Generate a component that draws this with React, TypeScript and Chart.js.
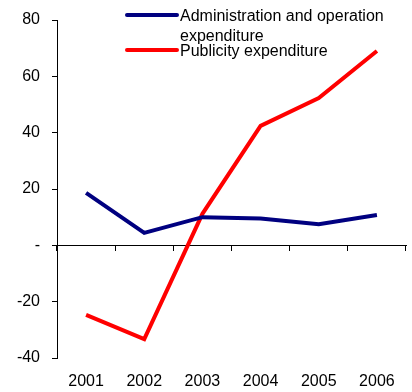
import React, { useEffect, useRef } from "react";
import { Chart, registerables } from "chart.js";

Chart.register(...registerables);

const years = ["2001", "2002", "2003", "2004", "2005", "2006"];
const adminValues = [18.6, 4.4, 10, 9.5, 7.5, 10.8];
const publicityValues = [-24.7, -33.3, 11.2, 42.4, 52.3, 69];
const seriesNames = ["Administration and operation expenditure", "Publicity expenditure"];
const seriesColors = ["#000080", "#FF0000"];
const yTicks = [-40, -20, 0, 20, 40, 60, 80];

const FONT = "'Liberation Sans', Arial, sans-serif";

const legendPlugin = {
  id: "customLegend",
  afterDraw(chart: any) {
    const ctx = chart.ctx;
    ctx.save();
    ctx.font = `16px ${FONT}`;
    ctx.fillStyle = "#000";
    ctx.textBaseline = "middle";
    const x0 = 127, x1 = 177, tx = 180, maxW = 225;
    let y = 16;
    chart.data.datasets.forEach((ds: any) => {
      ctx.strokeStyle = ds.borderColor;
      ctx.lineWidth = 4;
      ctx.lineCap = "round";
      ctx.beginPath();
      ctx.moveTo(x0, y - 1);
      ctx.lineTo(x1, y - 1);
      ctx.stroke();
      const words = String(ds.label).split(" ");
      const lines: string[] = [];
      let cur = "";
      words.forEach((w) => {
        const t = cur ? cur + " " + w : w;
        if (ctx.measureText(t).width > maxW && cur) {
          lines.push(cur);
          cur = w;
        } else cur = t;
      });
      if (cur) lines.push(cur);
      lines.forEach((l, i) => ctx.fillText(l, tx, y + 1 + i * 20));
      y += lines.length * 17.5;
    });
    ctx.restore();
  },
};

export default function App() {
  const ref = useRef<HTMLCanvasElement>(null);
  useEffect(() => {
    document.body.style.margin = "0";
    const chart = new Chart(ref.current!, {
      type: "line",
      data: {
        labels: years,
        datasets: [
          {
            label: seriesNames[0],
            data: adminValues,
            borderColor: seriesColors[0],
            backgroundColor: seriesColors[0],
            borderWidth: 4,
            pointRadius: 0,
            tension: 0,
            xAxisID: "x",
          },
          {
            label: seriesNames[1],
            data: publicityValues,
            borderColor: seriesColors[1],
            backgroundColor: seriesColors[1],
            borderWidth: 4,
            pointRadius: 0,
            tension: 0,
            xAxisID: "x",
          },
        ],
      },
      options: {
        animation: false,
        responsive: false,
        layout: { padding: { top: 20, right: 6, left: 0, bottom: 0 } },
        plugins: { legend: { display: false }, tooltip: { enabled: false } },
        scales: {
          x: {
            type: "category",
            position: "bottom",
            offset: true,
            grid: { display: false, drawTicks: false },
            border: { display: false },
            ticks: { color: "#000", font: { family: FONT, size: 16 }, padding: 14, maxRotation: 0 },
            afterFit: (s: any) => { s.height = 34; },
          },
          x2: {
            type: "category",
            axis: "x",
            labels: years,
            position: { y: 0 } as any,
            offset: true,
            grid: { offset: true, drawOnChartArea: false, drawTicks: true, tickLength: 5, color: "#000", lineWidth: 1 },
            border: { display: true, color: "#000", width: 1 },
            ticks: { display: false },
          },
          y: {
            min: -40,
            max: 80,
            afterBuildTicks: (s: any) => { s.ticks = yTicks.map((v) => ({ value: v })); },
            grid: { drawOnChartArea: false, drawTicks: true, tickLength: 5, color: "#000" },
            border: { display: true, color: "#000", width: 1 },
            ticks: {
              color: "#000",
              font: { family: FONT, size: 16, lineHeight: 1 },
              padding: 12,
              callback: (v: any) => (Number(v) === 0 ? "-" : String(v)),
            },
            afterFit: (s: any) => { s.width = 57; },
          },
        },
      },
      plugins: [legendPlugin],
    });
    return () => chart.destroy();
  }, []);
  return (
    <div style={{ width: 412, height: 392 }}>
      <canvas ref={ref} width={412} height={392} style={{ display: "block" }} />
    </div>
  );
}
